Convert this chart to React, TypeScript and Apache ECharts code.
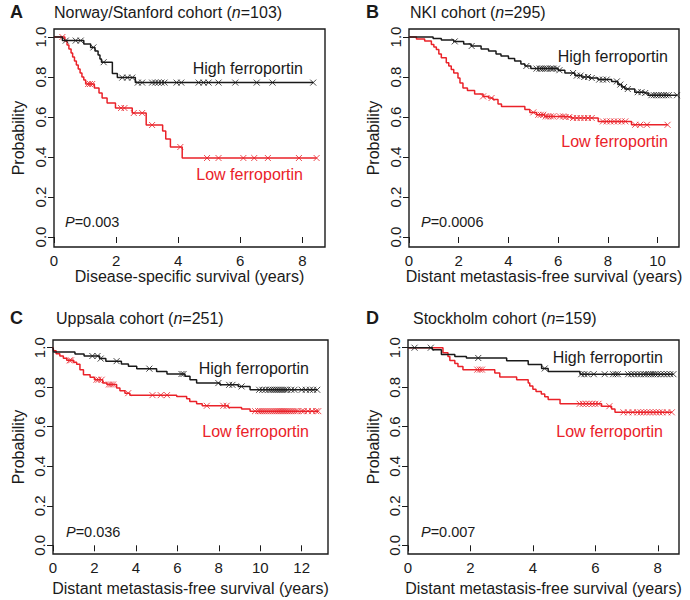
import React, { useEffect, useRef } from "react";
import * as echarts from "echarts";

// ---------- Data ----------
// Panel A: Norway/Stanford cohort
const aHighT = [0.27, 0.96, 1.18, 1.32, 1.42, 1.48, 1.53, 1.88, 2.04, 2.62];
const aHighS = [0.982, 0.965, 0.948, 0.93, 0.91, 0.89, 0.874, 0.817, 0.797, 0.772];
const aHighC = [0.38, 0.7, 0.86, 1.27, 1.6, 2.2, 2.36, 2.52, 2.7, 2.84, 3.16, 3.26, 3.36, 3.46, 3.56, 3.95, 4.1, 4.66, 4.82, 4.98, 5.3, 5.84, 6.53, 7.04, 8.35];
const aLowT = [0.35, 0.42, 0.48, 0.55, 0.6, 0.66, 0.72, 0.78, 0.84, 0.9, 0.96, 1.02, 1.3, 1.45, 1.55, 1.71, 1.98, 2.52, 2.97, 3.5, 3.6, 3.75, 4.13];
const aLowS = [0.98, 0.96, 0.94, 0.92, 0.9, 0.88, 0.86, 0.84, 0.82, 0.8, 0.785, 0.765, 0.745, 0.72, 0.695, 0.67, 0.645, 0.62, 0.56, 0.53, 0.49, 0.45, 0.395];
const aLowC = [0.27, 1.1, 1.16, 1.23, 2.16, 2.27, 2.57, 2.84, 3.16, 4.07, 4.93, 5.3, 6.1, 6.45, 6.89, 7.89, 8.46];

// Panel B: NKI cohort
const bHighT = [0.97, 1.3, 1.8, 2.2, 2.5, 2.9, 3.2, 3.5, 3.7, 4.0, 4.25, 4.5, 4.66, 4.9, 6.0, 6.27, 6.67, 6.94, 7.27, 7.6, 8.15, 8.4, 8.55, 8.68, 9.08, 9.5, 9.62];
const bHighS = [0.993, 0.985, 0.978, 0.965, 0.955, 0.94, 0.93, 0.915, 0.905, 0.893, 0.88, 0.865, 0.855, 0.842, 0.834, 0.82, 0.807, 0.8, 0.795, 0.787, 0.778, 0.762, 0.75, 0.74, 0.724, 0.72, 0.709];
const bHighC = [1.84, 2.52, 4.72, 5.13, 5.25, 5.32, 5.4, 5.48, 5.56, 5.68, 5.75, 5.82, 5.95, 6.05, 6.6, 6.75, 6.9, 7.05, 7.2, 7.35, 7.65, 7.8, 7.95, 8.36, 8.5, 8.65, 8.8, 9.2, 9.35, 9.5, 9.75, 9.85, 9.95, 10.05, 10.15, 10.25, 10.35, 10.45, 10.78];
const bLowT = [0.3, 0.63, 0.9, 1.0, 1.1, 1.2, 1.3, 1.5, 1.6, 1.7, 1.8, 1.97, 2.05, 2.17, 2.35, 2.64, 2.98, 3.2, 3.38, 3.58, 3.72, 4.66, 4.86, 5.13, 5.46, 6.27, 6.54, 7.61, 8.95];
const bLowS = [0.99, 0.98, 0.963, 0.95, 0.938, 0.915, 0.896, 0.871, 0.855, 0.837, 0.82, 0.795, 0.77, 0.745, 0.733, 0.715, 0.703, 0.695, 0.687, 0.665, 0.653, 0.637, 0.623, 0.611, 0.603, 0.6, 0.595, 0.578, 0.561];
const bLowC = [2.98, 3.32, 5.0, 5.2, 5.3, 5.4, 5.5, 5.6, 5.7, 5.8, 6.07, 6.2, 6.3, 6.45, 6.6, 6.75, 6.9, 7.05, 7.2, 7.35, 7.8, 7.95, 8.1, 8.25, 8.4, 8.55, 8.7, 9.1, 9.3, 9.57, 10.4];

// Panel C: Uppsala cohort
const cHighT = [0.03, 1.06, 1.5, 2.25, 2.55, 3.3, 3.64, 4.04, 5.0, 5.5, 6.37, 6.61, 6.93, 8.06, 8.94, 9.51];
const cHighS = [0.978, 0.968, 0.958, 0.945, 0.932, 0.918, 0.906, 0.894, 0.88, 0.867, 0.855, 0.838, 0.821, 0.812, 0.804, 0.787];
const cHighC = [1.9, 2.15, 2.3, 3.07, 4.65, 6.2, 6.3, 7.98, 8.5, 8.66, 9.1, 9.95, 10.1, 10.25, 10.4, 10.5, 10.6, 10.7, 10.8, 10.9, 11.0, 11.1, 11.2, 11.3, 11.5, 11.65, 12.0, 12.2, 12.4, 12.55, 12.75];
const cLowT = [0.03, 0.15, 0.33, 0.5, 0.66, 1.0, 1.14, 1.3, 1.47, 1.79, 2.0, 2.4, 2.6, 3.07, 3.23, 3.47, 3.71, 5.97, 6.45, 6.6, 6.93, 7.2, 8.46, 9.1, 9.51];
const cLowS = [0.985, 0.97, 0.958, 0.947, 0.936, 0.926, 0.916, 0.889, 0.863, 0.85, 0.838, 0.822, 0.814, 0.796, 0.782, 0.77, 0.76, 0.753, 0.742, 0.728, 0.717, 0.706, 0.698, 0.69, 0.679];
const cLowC = [0.8, 0.87, 2.1, 2.2, 2.35, 2.7, 2.8, 2.9, 3.63, 4.8, 5.2, 5.5, 7.42, 8.22, 8.38, 9.75, 9.9, 10.0, 10.1, 10.2, 10.3, 10.4, 10.5, 10.6, 10.7, 10.8, 10.9, 11.0, 11.1, 11.2, 11.3, 11.4, 11.5, 11.6, 11.7, 11.8, 12.0, 12.1, 12.3, 12.5, 12.7, 12.8];

// Panel D: Stockholm cohort
const dHighT = [0.78, 1.07, 1.5, 1.87, 3.16, 3.85, 4.28, 4.49, 5.51];
const dHighS = [0.99, 0.965, 0.955, 0.948, 0.934, 0.915, 0.895, 0.88, 0.866];
const dHighC = [0.21, 0.73, 2.25, 4.38, 5.55, 5.65, 5.75, 5.95, 6.3, 6.57, 6.65, 6.72, 7.05, 7.15, 7.25, 7.35, 7.45, 7.55, 7.62, 7.7, 7.78, 7.85, 7.92, 8.0, 8.1, 8.2, 8.3, 8.4, 8.5];
const dLowT = [1.12, 1.28, 1.34, 1.5, 1.6, 1.76, 2.78, 2.94, 3.48, 3.85, 3.9, 4.0, 4.1, 4.27, 4.38, 4.49, 4.87, 6.2, 6.52, 6.63];
const dLowS = [0.975, 0.955, 0.935, 0.92, 0.905, 0.889, 0.872, 0.852, 0.838, 0.822, 0.806, 0.79, 0.778, 0.766, 0.752, 0.738, 0.716, 0.704, 0.69, 0.673];
const dLowC = [2.22, 2.3, 2.37, 5.5, 5.6, 5.7, 5.8, 5.9, 6.0, 6.1, 6.45, 6.9, 7.05, 7.2, 7.35, 7.45, 7.55, 7.65, 7.75, 7.85, 7.95, 8.05, 8.15, 8.3, 8.45];

// Axis ticks and texts
const yTicks = [0, 0.2, 0.4, 0.6, 0.8, 1.0];
const xTicksA = [0, 2, 4, 6, 8];
const xTicksB = [0, 2, 4, 6, 8, 10];
const xTicksC = [0, 2, 4, 6, 8, 10, 12];
const xTicksD = [0, 2, 4, 6, 8];
const letters = ["A", "B", "C", "D"];
const cohortNames = ["Norway/Stanford cohort", "NKI cohort", "Uppsala cohort", "Stockholm cohort"];
const cohortN = [103, 295, 251, 159];
const pValues = ["0.003", "0.0006", "0.036", "0.007"];
const xAxisNames = [
  "Disease-specific survival (years)",
  "Distant metastasis-free survival (years)",
  "Distant metastasis-free survival (years)",
  "Distant metastasis-free survival (years)",
];
const highLabel = "High ferroportin";
const lowLabel = "Low ferroportin";
const yAxisName = "Probability";

// ---------- Styling ----------
const FONT = '"Liberation Sans", Arial, Helvetica, sans-serif';
const RED = "#ea2229";
const BLACK = "#1a1a1a";
const CROSS = "path://M0,0L10,10M10,0L0,10";

function stepData(times: number[], surv: number[], cens: number[]) {
  const end = Math.max(times[times.length - 1], ...cens);
  const pts: number[][] = [[0, 1]];
  times.forEach((t, i) => pts.push([t, surv[i]]));
  pts.push([end, surv[surv.length - 1]]);
  return pts;
}
function survAt(times: number[], surv: number[], t: number) {
  let s = 1;
  for (let i = 0; i < times.length; i++) if (times[i] <= t) s = surv[i];
  return s;
}

const panels = [
  {
    hT: aHighT, hS: aHighS, hC: aHighC, lT: aLowT, lS: aLowS, lC: aLowC, xTicks: xTicksA, xMax: 8.73,
    grid: { left: 54, top: 29, width: 271, height: 218 }, yMin: -0.05, yMax: 1.04, xNameGap: 21, yNameGap: 28,
    letterX: 10, titleX: 54, titleY: 12, hiX: 303, hiY: 68, loX: 303, loY: 174, pX: 65, pY: 222,
  },
  {
    hT: bHighT, hS: bHighS, hC: bHighC, lT: bLowT, lS: bLowS, lC: bLowC, xTicks: xTicksB, xMax: 10.86,
    grid: { left: 409, top: 29, width: 270, height: 218 }, yMin: -0.05, yMax: 1.04, xNameGap: 21, yNameGap: 28,
    letterX: 366, titleX: 410, titleY: 12, hiX: 668, hiY: 56, loX: 668, loY: 141, pX: 421, pY: 222,
  },
  {
    hT: cHighT, hS: cHighS, hC: cHighC, lT: cLowT, lS: cLowS, lC: cLowC, xTicks: xTicksC, xMax: 13.27,
    grid: { left: 53, top: 340, width: 275, height: 214 }, yMin: -0.044, yMax: 1.039, xNameGap: 26, yNameGap: 27,
    letterX: 10, titleX: 56, titleY: 318, hiX: 309, hiY: 368, loX: 309, loY: 431, pX: 66, pY: 532,
  },
  {
    hT: dHighT, hS: dHighS, hC: dHighC, lT: dLowT, lS: dLowS, lC: dLowC, xTicks: xTicksD, xMax: 8.68,
    grid: { left: 408, top: 340, width: 271, height: 214 }, yMin: -0.044, yMax: 1.039, xNameGap: 26, yNameGap: 27,
    letterX: 366, titleX: 413, titleY: 318, hiX: 663, hiY: 357, loX: 663, loY: 431, pX: 421, pY: 532,
  },
];

function buildOption() {
  const grid: any[] = [];
  const xAxis: any[] = [];
  const yAxis: any[] = [];
  const series: any[] = [];
  const graphic: any[] = [];

  panels.forEach((p, i) => {
    grid.push({ ...p.grid, show: true, borderColor: BLACK, borderWidth: 1.4, backgroundColor: "transparent" });
    xAxis.push({
      type: "value", gridIndex: i, min: 0, max: p.xMax,
      name: xAxisNames[i], nameLocation: "middle", nameGap: p.xNameGap,
      nameTextStyle: { fontSize: 16, color: BLACK, fontFamily: FONT },
      axisLine: { show: false },
      axisTick: { show: true, customValues: p.xTicks, length: 6, inside: false, lineStyle: { color: BLACK, width: 1 } },
      axisLabel: { customValues: p.xTicks, fontSize: 15, color: BLACK, fontFamily: FONT, margin: 6 },
      splitLine: { show: false },
    });
    yAxis.push({
      type: "value", gridIndex: i, min: p.yMin, max: p.yMax,
      name: yAxisName, nameLocation: "middle", nameGap: p.yNameGap,
      nameTextStyle: { fontSize: 16, color: BLACK, fontFamily: FONT },
      axisLine: { show: false },
      axisTick: { show: true, customValues: yTicks, length: 6, inside: false, lineStyle: { color: BLACK, width: 1 } },
      axisLabel: {
        customValues: yTicks, rotate: 90, fontSize: 15, color: BLACK, fontFamily: FONT, margin: 6,
        formatter: (v: number) => v.toFixed(1),
      },
      splitLine: { show: false },
    });

    series.push({
      type: "line", xAxisIndex: i, yAxisIndex: i, step: "end", symbol: "none", showSymbol: false,
      data: stepData(p.lT, p.lS, p.lC), lineStyle: { color: RED, width: 1.5 }, z: 2,
    });
    series.push({
      type: "scatter", xAxisIndex: i, yAxisIndex: i, symbol: CROSS, symbolSize: 6,
      data: p.lC.map((t) => [t, survAt(p.lT, p.lS, t)]),
      itemStyle: { color: "none", borderColor: RED, borderWidth: 1 }, z: 3,
    });
    series.push({
      type: "line", xAxisIndex: i, yAxisIndex: i, step: "end", symbol: "none", showSymbol: false,
      data: stepData(p.hT, p.hS, p.hC), lineStyle: { color: BLACK, width: 1.5 }, z: 4,
    });
    series.push({
      type: "scatter", xAxisIndex: i, yAxisIndex: i, symbol: CROSS, symbolSize: 6,
      data: p.hC.map((t) => [t, survAt(p.hT, p.hS, t)]),
      itemStyle: { color: "none", borderColor: BLACK, borderWidth: 1 }, z: 5,
    });

    graphic.push({
      type: "text", x: p.letterX, y: p.titleY,
      style: { text: letters[i], fontSize: 18, fontWeight: "bold", fill: BLACK, fontFamily: FONT, verticalAlign: "middle" },
    });
    graphic.push({
      type: "text", x: p.titleX, y: p.titleY,
      style: {
        text: `{r|${cohortNames[i]} (}{i|n}{r|=${cohortN[i]})}`,
        verticalAlign: "middle", fill: BLACK, fontFamily: FONT, fontSize: 16,
        rich: {
          r: { fontSize: 16, fontFamily: FONT, fill: BLACK },
          i: { fontSize: 16, fontFamily: FONT, fontStyle: "italic", fill: BLACK },
        },
      },
    });
    graphic.push({
      type: "text", x: p.hiX, y: p.hiY,
      style: { text: highLabel, align: "right", verticalAlign: "middle", fontSize: 16, fill: BLACK, fontFamily: FONT },
    });
    graphic.push({
      type: "text", x: p.loX, y: p.loY,
      style: { text: lowLabel, align: "right", verticalAlign: "middle", fontSize: 16, fill: RED, fontFamily: FONT },
    });
    graphic.push({
      type: "text", x: p.pX, y: p.pY,
      style: {
        text: `{i|P}{r|=${pValues[i]}}`,
        verticalAlign: "middle", fill: BLACK, fontFamily: FONT, fontSize: 14.5,
        rich: {
          r: { fontSize: 14.5, fontFamily: FONT, fill: BLACK },
          i: { fontSize: 14.5, fontFamily: FONT, fontStyle: "italic", fill: BLACK },
        },
      },
    });
  });

  return {
    animation: false,
    backgroundColor: "#ffffff",
    textStyle: { fontFamily: FONT },
    grid, xAxis, yAxis, series, graphic,
  };
}

export default function App() {
  const ref = useRef<HTMLDivElement>(null);
  useEffect(() => {
    if (!ref.current) return;
    const chart = echarts.init(ref.current, null, { renderer: "svg" });
    chart.setOption(buildOption() as any);
    return () => chart.dispose();
  }, []);
  return (
    <div
      ref={ref}
      style={{ position: "absolute", left: 0, top: 0, width: 690, height: 600, background: "#fff" }}
    />
  );
}
